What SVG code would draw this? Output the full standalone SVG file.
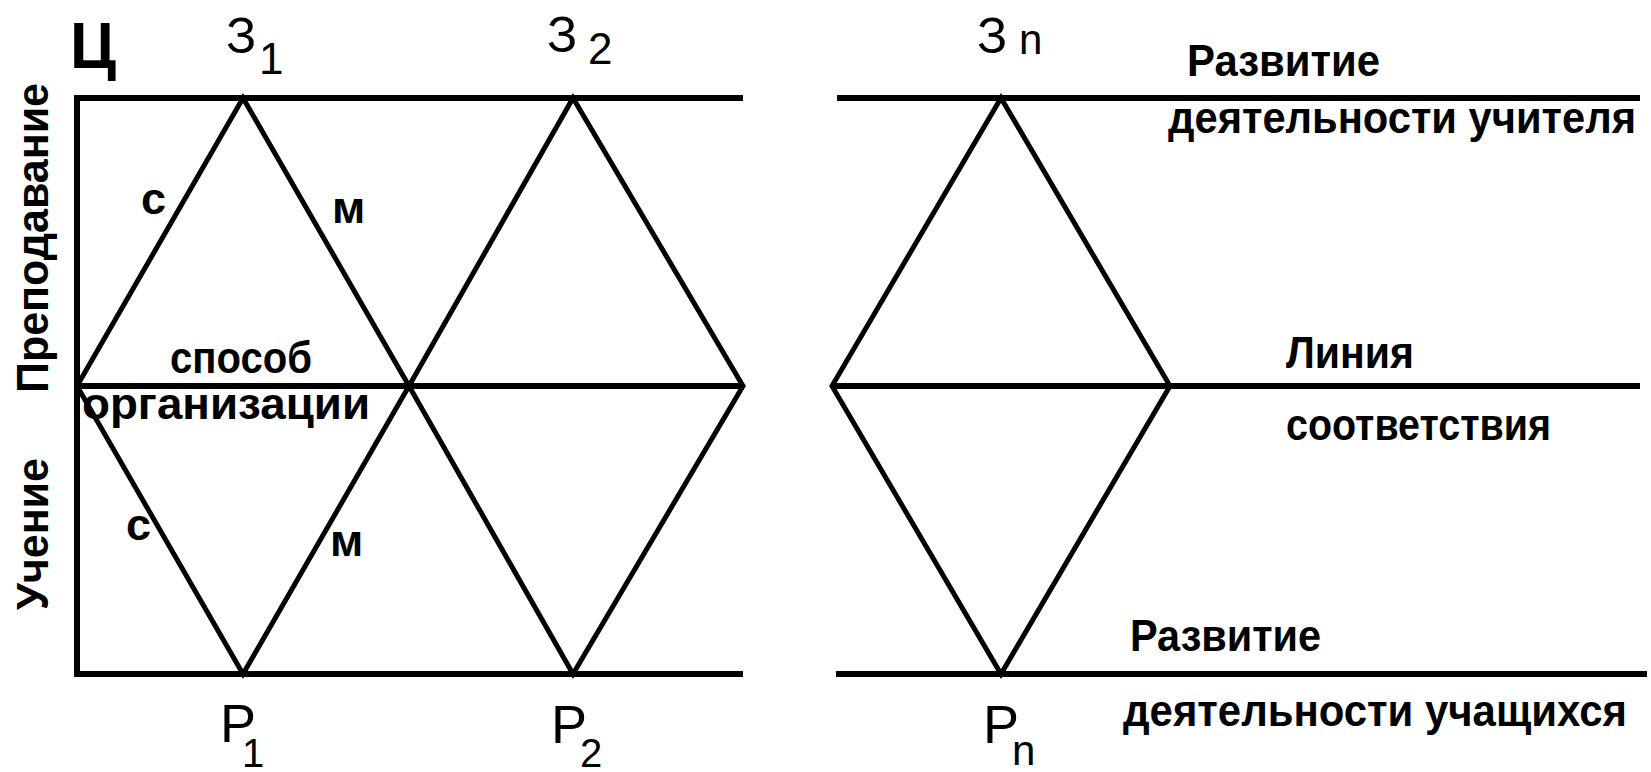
<svg xmlns="http://www.w3.org/2000/svg" width="1651" height="772" viewBox="0 0 1651 772">
<style>
.ln{stroke:#000;stroke-width:6;fill:none;stroke-linecap:butt}
.dg{stroke:#000;stroke-width:5;fill:none;stroke-linejoin:miter;stroke-miterlimit:20}
.b{font-family:"Liberation Sans",Arial,sans-serif;font-weight:bold;font-size:45px;fill:#000}
.r{font-family:"Liberation Sans",Arial,sans-serif;font-weight:normal;fill:#000}
.h{font-family:"Liberation Sans",Arial,sans-serif;font-weight:bold;font-size:64px;fill:#000}
</style>
<rect width="1651" height="772" fill="#fff"/>
<g id="connectors">
<line class="ln" x1="77" y1="95" x2="77" y2="677"/>
<line class="ln" x1="74" y1="98" x2="743" y2="98"/>
<line class="ln" x1="77" y1="386" x2="743" y2="386"/>
<line class="ln" x1="74" y1="674" x2="743" y2="674"/>
<line class="ln" x1="837" y1="98" x2="1640" y2="98"/>
<line class="ln" x1="832" y1="386" x2="1640" y2="386"/>
<line class="ln" x1="836" y1="674" x2="1647" y2="674"/>
</g>
<g id="diamond-1">
<polygon class="dg" points="77,386 243,98 409,386 243,674"/>
</g>
<g id="diamond-2">
<polygon class="dg" points="409,386 573,98 743,386 573,674"/>
</g>
<g id="diamond-n">
<polygon class="dg" points="832,386 1001,98 1170,386 1001,674"/>
</g>
<g id="labels-top">
<text class="h" x="70" y="68" textLength="46" lengthAdjust="spacingAndGlyphs">Ц</text>
<text class="r" x="226" y="53" font-size="50">З</text>
<text class="r" x="259" y="74" font-size="44">1</text>
<text class="r" x="547" y="52" font-size="50">З</text>
<text class="r" x="588" y="64" font-size="44">2</text>
<text class="r" x="977" y="53" font-size="50">З</text>
<text class="r" x="1019" y="54" font-size="42">n</text>
</g>
<g id="labels-bottom">
<text class="r" x="220" y="742" font-size="54">Р</text>
<text class="r" x="242" y="767" font-size="40">1</text>
<text class="r" x="551" y="743" font-size="54">Р</text>
<text class="r" x="580" y="767" font-size="40">2</text>
<text class="r" x="983" y="743" font-size="54">Р</text>
<text class="r" x="1012" y="765" font-size="42">n</text>
</g>
<g id="labels-sides">
<text class="b" transform="translate(48,393) rotate(-90)" textLength="310" lengthAdjust="spacingAndGlyphs">Преподавание</text>
<text class="b" transform="translate(48,610) rotate(-90)" textLength="152" lengthAdjust="spacingAndGlyphs">Учение</text>
</g>
<g id="labels-inner">
<text class="b" x="141" y="214">с</text>
<text class="b" x="332" y="223">м</text>
<text class="b" x="126" y="540">с</text>
<text class="b" x="330" y="556">м</text>
<text class="b" x="170" y="373" textLength="142" lengthAdjust="spacingAndGlyphs">способ</text>
<text class="b" x="82" y="419" textLength="288" lengthAdjust="spacingAndGlyphs">организации</text>
</g>
<g id="labels-right">
<text class="b" x="1187" y="76" textLength="193" lengthAdjust="spacingAndGlyphs">Развитие</text>
<text class="b" x="1168" y="133" textLength="468" lengthAdjust="spacingAndGlyphs">деятельности учителя</text>
<text class="b" x="1286" y="368" textLength="128" lengthAdjust="spacingAndGlyphs">Линия</text>
<text class="b" x="1286" y="440" textLength="265" lengthAdjust="spacingAndGlyphs">соответствия</text>
<text class="b" x="1130" y="651" textLength="191" lengthAdjust="spacingAndGlyphs">Развитие</text>
<text class="b" x="1123" y="726" textLength="504" lengthAdjust="spacingAndGlyphs">деятельности учащихся</text>
</g>
</svg>
